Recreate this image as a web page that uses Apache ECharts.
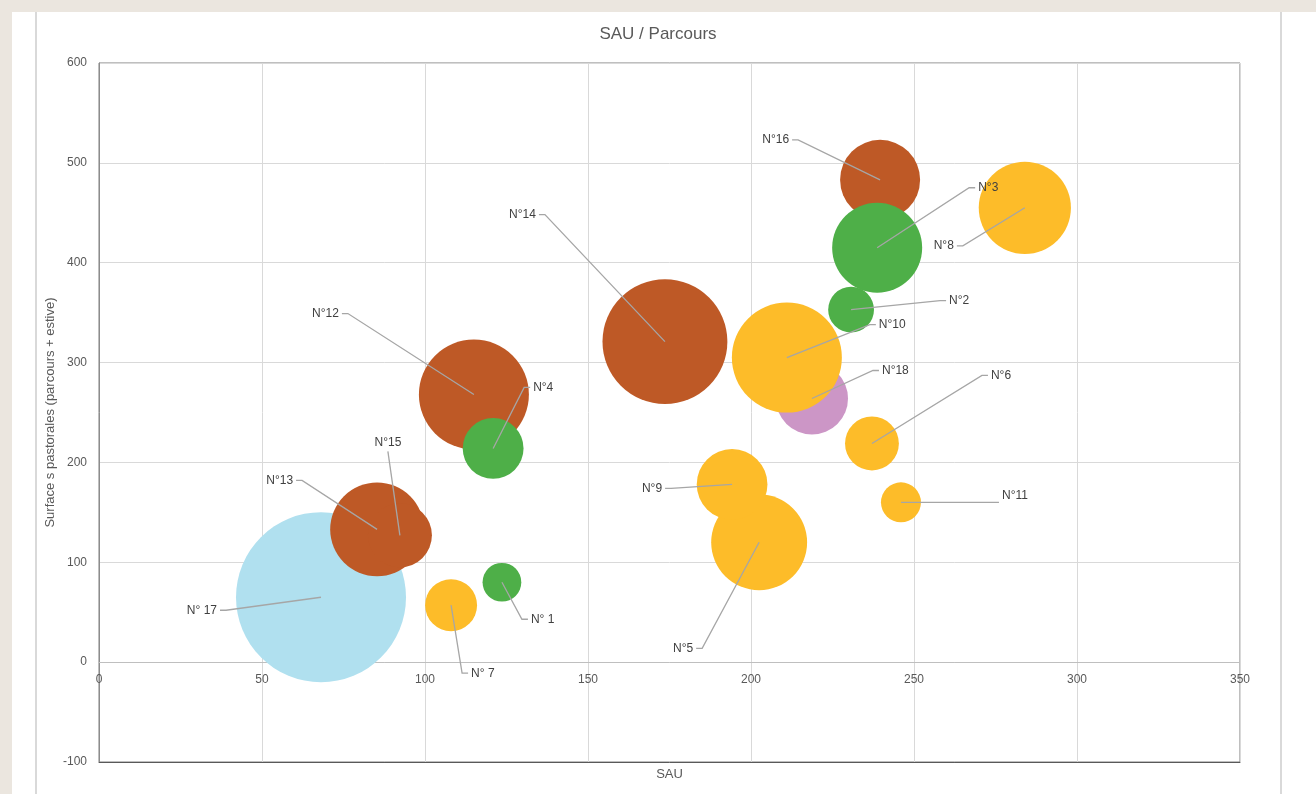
<!DOCTYPE html>
<html>
<head>
<meta charset="utf-8">
<title>SAU / Parcours</title>
<script src="https://cdn.jsdelivr.net/npm/echarts@6/dist/echarts.min.js"></script>
<style>
    html, body { margin: 0; padding: 0; background: #ebe6df; }
    .feuille { position: absolute; left: 12px; top: 12px; right: 0; bottom: 0; background: #ffffff; }
    .trait { position: absolute; top: 12px; bottom: 0; width: 2px; background: #d9d9d9; }
    #chart { position: absolute; left: 0; top: 0; width: 1316px; height: 794px; }
</style>
</head>
<body>
<div class="feuille"></div>
<div class="trait" style="left:35px"></div>
<div class="trait" style="left:1280px"></div>
<div id="chart"></div>
<script>
// Exploitations : SAU (x), surfaces pastorales (y), taille de bulle
const noms    = ['N° 1', 'N°2', 'N°3', 'N°4', 'N°5', 'N°6', 'N° 7', 'N°8', 'N°9',
                 'N°10', 'N°11', 'N°12', 'N°13', 'N°14', 'N°15', 'N°16', 'N° 17', 'N°18'];
const sau     = [123.6, 230.7, 238.7, 120.9, 202.5, 237.1, 108.0, 284.0, 194.2,
                 211.0, 246.0, 115.0, 85.3, 173.6, 92.3, 239.6, 68.1, 218.7];
const parcours = [80, 353, 415, 214, 120, 219, 57, 455, 178,
                  305, 160, 268, 133, 321, 127, 483, 65, 264];
const taille  = [15, 21, 81, 37, 92, 29, 27, 85, 50,
                 121, 16, 121, 88, 156, 41, 64, 289, 52];
const groupe  = ['vert', 'vert', 'vert', 'vert', 'jaune', 'jaune', 'jaune', 'jaune', 'jaune',
                 'jaune', 'jaune', 'marron', 'marron', 'marron', 'marron', 'marron', 'bleu', 'rose'];

// ordre de dessin (du fond vers l'avant) et couleurs
const ordreGroupes = ['bleu', 'rose', 'marron', 'jaune', 'vert'];
const couleurs = {
    bleu: '#b0e0ef',
    rose: '#cc96c6',
    marron: '#be5926',
    jaune: '#fdbc29',
    vert: '#4eaf48'
};

// position des étiquettes : décalage en pixels depuis le centre de la bulle + côté
const etiqDx   = [20, 89, 92, 31, -57, 110, 11, -62, -61, 83, 92, -126, -75, -120, -12, -82, -95, 61];
const etiqDy   = [37, -9, -60, -61, 106, -68, 68, 38, 4, -33, 0, -81, -49, -127, -84, -40, 13, -28];
const etiqTy   = [0, 0, 0, 0, 0, 0, 0, 0, 0, 0, -7, 0, 0, 0, 0, 0, 0, 0];
const etiqCote = ['r', 'r', 'r', 'r', 'l', 'r', 'r', 'l', 'l', 'r', 'r', 'l', 'l', 'l', 't', 'l', 'l', 'r'];

const police = '"Liberation Sans", Arial, sans-serif';

function initBulles() {
    const chart = echarts.init(document.getElementById('chart'), null, { renderer: 'canvas' });

    // une série de bulles par groupe de couleur
    const seriesBulles = ordreGroupes.map(function (g, k) {
        const points = [];
        for (let i = 0; i < noms.length; i++) {
            if (groupe[i] === g) {
                points.push({ name: noms[i], value: [sau[i], parcours[i], taille[i]] });
            }
        }
        const s = {
            name: g,
            type: 'scatter',
            data: points,
            symbolSize: function (v) { return 10 * Math.sqrt(v[2]); },
            itemStyle: { color: couleurs[g], opacity: 1 },
            emphasis: { disabled: true },
            z: 2
        };
        if (k === 0) {
            // ligne du zéro (l'axe horizontal coupe à y = 0)
            s.markLine = {
                silent: true,
                symbol: 'none',
                label: { show: false },
                lineStyle: { color: '#bfbfbf', type: 'solid', width: 1 },
                data: [{ yAxis: 0 }],
                z: 1
            };
        }
        return s;
    });

    // étiquettes avec lignes de rappel
    const seriesEtiquettes = {
        type: 'custom',
        coordinateSystem: 'cartesian2d',
        data: noms.map(function (n, i) { return [sau[i], parcours[i]]; }),
        encode: { x: 0, y: 1 },
        z: 10,
        silent: true,
        clip: false,
        renderItem: function (params, api) {
            const i = params.dataIndex;
            const c = api.coord([api.value(0), api.value(1)]);
            const e = [c[0] + etiqDx[i], c[1] + etiqDy[i]];
            const cote = etiqCote[i];
            let pts, tx, ty, align, valign;
            if (cote === 'l') {
                pts = [c, e, [e[0] - 6, e[1]]];
                tx = e[0] - 9; ty = e[1]; align = 'right'; valign = 'middle';
            } else if (cote === 'r') {
                pts = [c, e, [e[0] + 6, e[1]]];
                tx = e[0] + 9; ty = e[1]; align = 'left'; valign = 'middle';
            } else {
                pts = [c, e];
                tx = e[0]; ty = e[1] - 3; align = 'center'; valign = 'bottom';
            }
            return {
                type: 'group',
                children: [
                    {
                        type: 'polyline',
                        shape: { points: pts },
                        style: { stroke: '#a6a6a6', lineWidth: 1.3, fill: null }
                    },
                    {
                        type: 'text',
                        style: {
                            x: tx, y: ty + etiqTy[i], text: noms[i],
                            align: align, verticalAlign: valign,
                            fill: '#404040', font: '12px ' + police
                        }
                    }
                ]
            };
        }
    };

    const option = {
        backgroundColor: 'transparent',
        animation: false,
        title: {
            text: 'SAU / Parcours',
            left: 'center',
            top: 21,
            textStyle: { color: '#595959', fontSize: 17, fontWeight: 'normal', fontFamily: police }
        },
        grid: {
            left: 99,
            right: 76,
            top: 63,
            bottom: 32,
            show: true,
            borderColor: '#7f7f7f',
            borderWidth: 1,
            containLabel: false,
            outerBoundsMode: 'none'
        },
        xAxis: {
            type: 'value',
            min: 0,
            max: 350,
            interval: 50,
            name: 'SAU',
            nameLocation: 'middle',
            nameGap: 6,
            nameMoveOverlap: false,
            nameTextStyle: { color: '#595959', fontSize: 13, fontFamily: police },
            axisLine: { show: true, onZero: false, lineStyle: { color: '#595959', width: 1 } },
            axisTick: { show: false },
            // les graduations s'affichent sur la ligne du zéro, comme dans Excel
            axisLabel: { color: '#595959', fontSize: 12, fontFamily: police, margin: -88 },
            splitLine: { show: true, lineStyle: { color: '#d9d9d9', width: 1 } }
        },
        yAxis: {
            type: 'value',
            min: -100,
            max: 600,
            interval: 100,
            name: 'Surface s pastorales (parcours + estive)',
            nameLocation: 'middle',
            nameGap: 42,
            nameMoveOverlap: false,
            nameRotate: 90,
            nameTextStyle: { color: '#595959', fontSize: 13, fontFamily: police },
            axisLine: { show: true, onZero: false, lineStyle: { color: '#8c8c8c', width: 1 } },
            axisTick: { show: false },
            axisLabel: { color: '#595959', fontSize: 12, fontFamily: police, margin: 12 },
            splitLine: { show: true, lineStyle: { color: '#d9d9d9', width: 1 } }
        },
        series: seriesBulles.concat([seriesEtiquettes])
    };

    chart.setOption(option);
    return chart;
}

document.addEventListener('DOMContentLoaded', function () {
    if (typeof echarts !== 'undefined') {
        initBulles();
    } else {
        console.error('ECharts non chargé');
    }
});
</script>
</body>
</html>
